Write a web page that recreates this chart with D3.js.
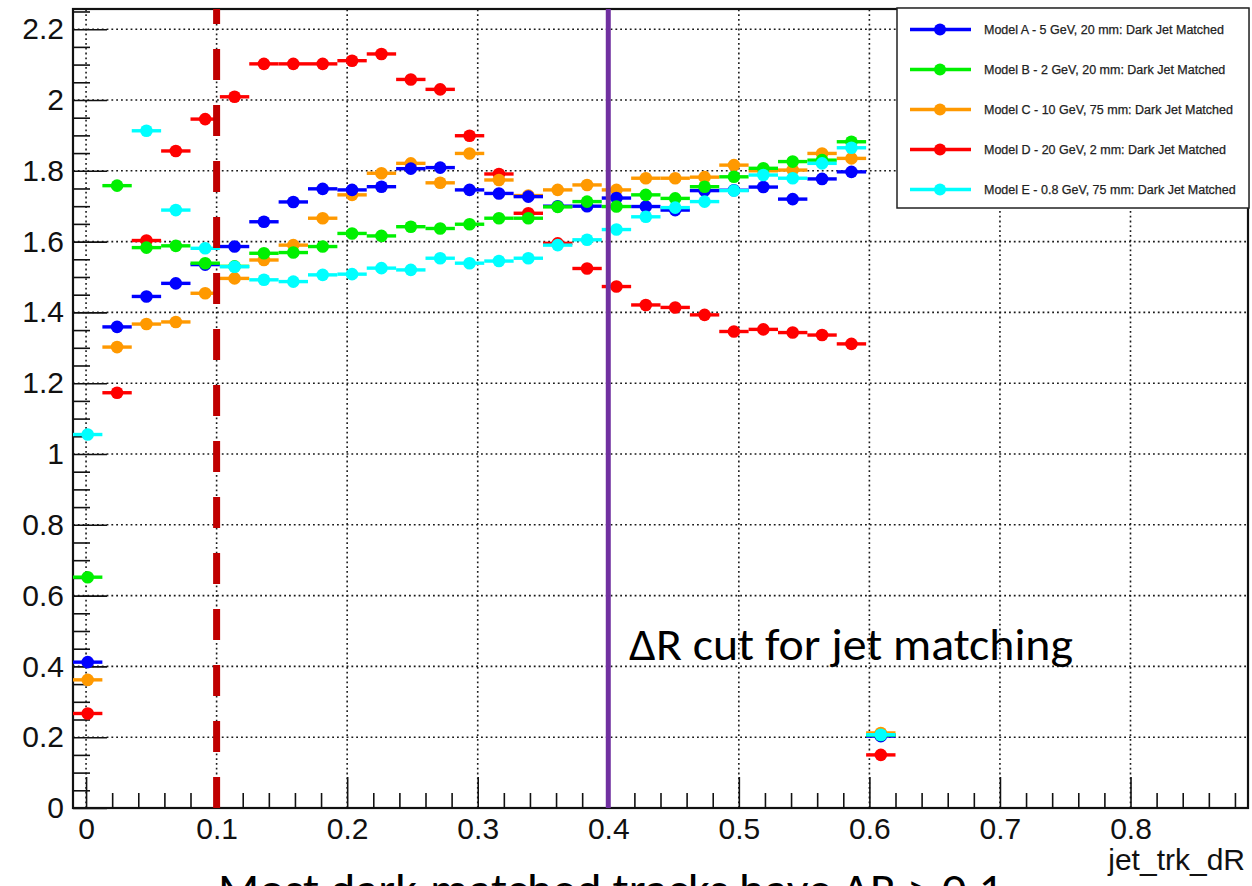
<!DOCTYPE html>
<html>
<head>
<meta charset="utf-8">
<script src="https://cdn.jsdelivr.net/npm/d3@7"></script>
<style>
  html, body { margin: 0; padding: 0; background: #fff; }
  svg { display: block; }
  .tick text { font-family: "Liberation Sans", Arial, sans-serif; fill: #111; }
</style>
</head>
<body>
<div id="chart"></div>
<script>
// jet_trk_dR, dark-jet matched tracks, 5 models
// bins: -0.01 .. 0.89, width 0.0225 (only first 28 filled)
const binLow = -0.01;
const binWidth = 0.0225;

const seriesNames = [
  "Model A - 5 GeV, 20 mm: Dark Jet Matched",
  "Model B - 2 GeV, 20 mm: Dark Jet Matched",
  "Model C - 10 GeV, 75 mm: Dark Jet Matched",
  "Model D - 20 GeV, 2 mm: Dark Jet Matched",
  "Model E - 0.8 GeV, 75 mm: Dark Jet Matched"
];
const seriesColors = ["#0000ff", "#00f000", "#ff9900", "#ff0000", "#00ffff"];

const modelA = [0.412, 1.359, 1.445, 1.482, 1.535, 1.586, 1.656, 1.712, 1.749, 1.746,
  1.755, 1.806, 1.809, 1.746, 1.736, 1.727, 1.700, 1.700, 1.723, 1.699,
  1.689, 1.744, 1.745, 1.754, 1.720, 1.777, 1.797, 0.203];
const modelB = [0.652, 1.758, 1.583, 1.588, 1.539, 1.530, 1.567, 1.569, 1.586, 1.623,
  1.616, 1.642, 1.637, 1.649, 1.666, 1.666, 1.698, 1.713, 1.699, 1.732,
  1.722, 1.755, 1.783, 1.807, 1.826, 1.830, 1.882, 0.206];
const modelC = [0.362, 1.302, 1.367, 1.373, 1.454, 1.496, 1.548, 1.590, 1.666, 1.732,
  1.793, 1.821, 1.766, 1.849, 1.774, 1.730, 1.746, 1.760, 1.746, 1.779,
  1.779, 1.782, 1.816, 1.800, 1.802, 1.849, 1.835, 0.212];
const modelD = [0.267, 1.173, 1.603, 1.856, 1.946, 2.009, 2.102, 2.102, 2.102, 2.111,
  2.130, 2.058, 2.030, 1.899, 1.791, 1.680, 1.595, 1.524, 1.473, 1.421,
  1.414, 1.393, 1.346, 1.352, 1.343, 1.336, 1.311, 0.150];
const modelE = [1.055, null, 1.913, 1.689, 1.581, 1.529, 1.492, 1.487, 1.506, 1.508,
  1.525, 1.520, 1.553, 1.539, 1.545, 1.553, 1.590, 1.605, 1.634, 1.670,
  1.696, 1.713, 1.744, 1.788, 1.779, 1.821, 1.865, 0.207];

const xMajor = [0, 0.1, 0.2, 0.3, 0.4, 0.5, 0.6, 0.7, 0.8];
const yMajor = [0, 0.2, 0.4, 0.6, 0.8, 1, 1.2, 1.4, 1.6, 1.8, 2, 2.2];
const xMinor = d3.range(0, 45).map(i => +(i * 0.02).toFixed(2)).filter(v => v < 0.89 && !xMajor.includes(v));
const yMinor = d3.range(0, 46).map(i => +(i * 0.05).toFixed(2)).filter(v => v < 2.257 && !yMajor.includes(v));

const cutLines = [0.1, 0.4];

let width = 1252;
let height = 886;

let x = d3.scaleLinear().domain([-0.01, 0.89]).range([73, 1248]);
let y = d3.scaleLinear().domain([0, 2.257]).range([808, 9]);

let svg = d3.select("#chart")
  .append("svg")
  .attr("width", width)
  .attr("height", height);

// grid
let grid = svg.append("g")
  .attr("stroke", "#1a1a1a")
  .attr("stroke-width", 1.6)
  .attr("stroke-dasharray", "1.8,3");
grid.selectAll(null).data(xMajor).enter().append("line")
  .attr("x1", d => x(d)).attr("x2", d => x(d))
  .attr("y1", y.range()[0]).attr("y2", y.range()[1]);
grid.selectAll(null).data(yMajor).enter().append("line")
  .attr("y1", d => y(d)).attr("y2", d => y(d))
  .attr("x1", x.range()[0]).attr("x2", x.range()[1]);

// axes (ROOT style, ticks inside)
let yAxis = svg.append("g")
  .attr("transform", "translate(" + x.range()[0] + ",0)")
  .call(d3.axisLeft(y).tickValues(yMajor).tickSizeInner(-34).tickSizeOuter(0)
    .tickPadding(9).tickFormat(d3.format("~g")));
svg.append("g")
  .attr("transform", "translate(" + x.range()[0] + ",0)")
  .call(d3.axisLeft(y).tickValues(yMinor).tickSizeInner(-17).tickSizeOuter(0).tickFormat(""));

let xAxis = svg.append("g")
  .attr("transform", "translate(0," + y.range()[0] + ")")
  .call(d3.axisBottom(x).tickValues(xMajor).tickSizeInner(-31).tickSizeOuter(0)
    .tickPadding(10).tickFormat(d3.format("~g")));
svg.append("g")
  .attr("transform", "translate(0," + y.range()[0] + ")")
  .call(d3.axisBottom(x).tickValues(xMinor).tickSizeInner(-15).tickSizeOuter(0).tickFormat(""));

svg.selectAll(".domain").remove();
svg.selectAll(".tick line").attr("stroke", "#111").attr("stroke-width", 1.6);
svg.selectAll(".tick text").attr("font-size", 30);

// frame
svg.append("rect")
  .attr("x", x.range()[0]).attr("y", y.range()[1])
  .attr("width", x.range()[1] - x.range()[0])
  .attr("height", y.range()[0] - y.range()[1])
  .attr("fill", "none")
  .attr("stroke", "#111")
  .attr("stroke-width", 2.2);

svg.append("text")
  .attr("x", 1245).attr("y", 870)
  .attr("text-anchor", "end")
  .attr("font-family", "Liberation Sans, Arial, sans-serif")
  .attr("font-size", 30)
  .attr("fill", "#111")
  .text("jet_trk_dR");

// data points with horizontal bin-width bars
// drawing order so that overlaps look like the original
const allSeries = [modelA, modelB, modelC, modelD, modelE];
const drawOrder = [3, 2, 0, 1, 4];

let pts = svg.append("g");
drawOrder.forEach(function (s) {
  let vals = allSeries[s]
    .map((v, i) => ({ c: binLow + binWidth * (i + 0.5), v: v }))
    .filter(d => d.v !== null);
  let g = pts.append("g").attr("fill", seriesColors[s]).attr("stroke", seriesColors[s]);
  g.selectAll("line").data(vals).enter().append("line")
    .attr("x1", d => x(d.c - binWidth / 2))
    .attr("x2", d => x(d.c + binWidth / 2))
    .attr("y1", d => y(d.v)).attr("y2", d => y(d.v))
    .attr("stroke-width", 3.4);
  g.selectAll("circle").data(vals).enter().append("circle")
    .attr("cx", d => x(d.c))
    .attr("cy", d => y(d.v))
    .attr("r", 6.3)
    .attr("stroke", "none");
});

// legend
let legend = svg.append("g");
legend.append("rect")
  .attr("x", 897).attr("y", 8)
  .attr("width", 352).attr("height", 200)
  .attr("fill", "#fff")
  .attr("stroke", "#222")
  .attr("stroke-width", 1.5);
let entries = legend.selectAll("g.entry").data(seriesNames).enter().append("g")
  .attr("class", "entry")
  .attr("transform", (d, i) => "translate(0," + (29.5 + i * 40) + ")");
entries.append("line")
  .attr("x1", 910).attr("x2", 971)
  .attr("stroke", (d, i) => seriesColors[i])
  .attr("stroke-width", 3.5);
entries.append("circle")
  .attr("cx", 940).attr("r", 6)
  .attr("fill", (d, i) => seriesColors[i]);
entries.append("text")
  .attr("x", 984).attr("y", 4.5)
  .attr("font-family", "Liberation Sans, Arial, sans-serif")
  .attr("font-size", 12.5)
  .attr("fill", "#222")
  .attr("stroke", "#222")
  .attr("stroke-width", 0.25)
  .text(d => d);

// overlay annotations
svg.selectAll(null).data(cutLines).enter().append("line")
  .attr("x1", d => x(d)).attr("x2", d => x(d))
  .attr("y1", y.range()[0]).attr("y2", y.range()[1])
  .attr("stroke", (d, i) => i === 0 ? "#c00000" : "#7030a0")
  .attr("stroke-width", (d, i) => i === 0 ? 7 : 5)
  .attr("stroke-dasharray", (d, i) => i === 0 ? "31,25" : null);

svg.append("text")
  .attr("x", 629).attr("y", 660)
  .attr("font-family", "Carlito, Lato, sans-serif")
  .attr("font-size", 45)
  .attr("fill", "#000")
  .attr("textLength", 444)
  .attr("lengthAdjust", "spacingAndGlyphs")
  .text("\u0394R cut for jet matching");

// caption continues below the picture edge, as in the original slide
svg.append("text")
  .attr("x", 218).attr("y", 905)
  .attr("font-family", "Carlito, Lato, sans-serif")
  .attr("font-size", 45)
  .attr("fill", "#000")
  .attr("textLength", 785)
  .attr("lengthAdjust", "spacingAndGlyphs")
  .text("Most dark-matched tracks have \u0394R > 0.1");
</script>
</body>
</html>
